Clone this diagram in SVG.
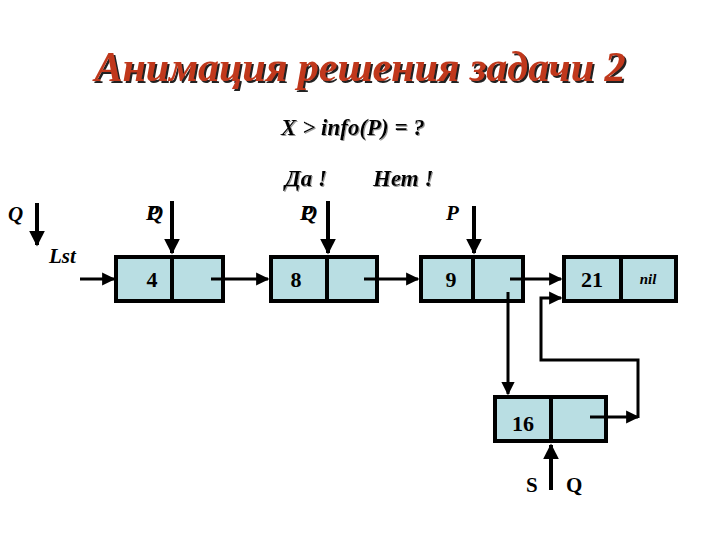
<svg xmlns="http://www.w3.org/2000/svg" width="720" height="540" viewBox="0 0 720 540" font-family="Liberation Serif, Times New Roman, DejaVu Serif, Noto Serif, serif">
<defs>
<marker id="ah" viewBox="0 0 10 10" refX="9" refY="5" markerWidth="4.4" markerHeight="4.4" orient="auto" markerUnits="strokeWidth"><path d="M0,0 L10,5 L0,10 z" fill="#000"/></marker>
<marker id="ahb" viewBox="0 0 10 10" refX="9" refY="5" markerWidth="4" markerHeight="4" orient="auto" markerUnits="strokeWidth"><path d="M0,0 L10,5 L0,10 z" fill="#000"/></marker>
<filter id="tsh" x="-5%" y="-20%" width="110%" height="140%"><feDropShadow dx="2" dy="2" stdDeviation="0.4" flood-color="#222" flood-opacity="1"/></filter>
<filter id="qsh" x="-5%" y="-20%" width="110%" height="140%"><feDropShadow dx="1" dy="1" stdDeviation="0.3" flood-color="#999" flood-opacity="1"/></filter>
</defs>
<style>
.cell{fill:#B9DEE3;stroke:#000;stroke-width:4}
.div{stroke:#000;stroke-width:4}
.num{font-weight:bold;font-size:22px;fill:#000}
.lab{font-weight:bold;font-style:italic;font-size:21px;fill:#000}
.q{font-size:23px}
.ln{fill:none;stroke:#000;stroke-width:3}
.ptr{fill:none;stroke:#000;stroke-width:4}
.title{font-weight:bold;font-style:italic;font-size:42px;fill:#C0391B}
</style>
<rect width="720" height="540" fill="#fff"/>
<g id="title">
<text x="360" y="81" text-anchor="middle" class="title" filter="url(#tsh)">Анимация решения задачи 2</text>
</g>
<g id="question" filter="url(#qsh)">
<text x="353" y="135" text-anchor="middle" class="lab q">X &gt; info(P) = ?</text>
<text x="285" y="186" class="lab q">Да !</text>
<text x="373" y="186" class="lab q">Нет !</text>
</g>
<g id="node4">
<rect class="cell" x="116" y="257" width="107" height="44"/>
<line class="div" x1="172" y1="257" x2="172" y2="301"/>
<text class="num" x="152" y="287" text-anchor="middle">4</text>
</g>
<g id="node8">
<rect class="cell" x="271" y="257" width="106" height="44"/>
<line class="div" x1="327" y1="257" x2="327" y2="301"/>
<text class="num" x="296" y="287" text-anchor="middle">8</text>
</g>
<g id="node9">
<rect class="cell" x="421" y="257" width="102" height="44"/>
<line class="div" x1="473" y1="257" x2="473" y2="301"/>
<text class="num" x="451" y="287" text-anchor="middle">9</text>
</g>
<g id="node21">
<rect class="cell" x="564" y="257" width="112" height="44"/>
<line class="div" x1="621" y1="257" x2="621" y2="301"/>
<text class="num" x="592" y="287" text-anchor="middle">21</text>
<text x="648" y="284" text-anchor="middle" font-weight="bold" font-style="italic" font-size="15">nil</text>
</g>
<g id="node16">
<rect class="cell" x="495" y="397" width="111" height="44"/>
<line class="div" x1="551" y1="397" x2="551" y2="441"/>
<text class="num" x="523" y="431" text-anchor="middle">16</text>
</g>
<g id="labels">
<text class="lab" x="8" y="221">Q</text>
<text class="lab" x="49" y="263">Lst</text>
<text class="lab" x="146" y="220">P</text>
<text class="lab" x="148" y="220">Q</text>
<text class="lab" x="300" y="220">P</text>
<text class="lab" x="302" y="220">Q</text>
<text class="lab" x="446" y="220">P</text>
<text x="526" y="492" font-weight="bold" font-size="21">S</text>
<text x="566" y="492" font-weight="bold" font-size="21">Q</text>
</g>
<g id="connectors">
<line class="ln" x1="80" y1="279" x2="114" y2="279" marker-end="url(#ah)"/>
<line class="ln" x1="211" y1="279" x2="268" y2="279" marker-end="url(#ah)"/>
<line class="ln" x1="364" y1="279" x2="418" y2="279" marker-end="url(#ah)"/>
<line class="ln" x1="510" y1="279" x2="561" y2="279" marker-end="url(#ah)"/>
<line class="ln" x1="508" y1="292" x2="508" y2="394" marker-end="url(#ah)"/>
<line class="ln" x1="590" y1="417" x2="638" y2="417" marker-end="url(#ah)"/>
<path class="ln" d="M638,418 V360 H541 V298 H561" marker-end="url(#ah)"/>
<line class="ptr" x1="37" y1="203" x2="37" y2="245" marker-end="url(#ahb)"/>
<line class="ptr" x1="172" y1="201" x2="172" y2="253" marker-end="url(#ahb)"/>
<line class="ptr" x1="328" y1="201" x2="328" y2="253" marker-end="url(#ahb)"/>
<line class="ptr" x1="474" y1="206" x2="474" y2="253" marker-end="url(#ahb)"/>
<line class="ptr" x1="551" y1="490" x2="551" y2="445" marker-end="url(#ahb)"/>
</g>
</svg>
